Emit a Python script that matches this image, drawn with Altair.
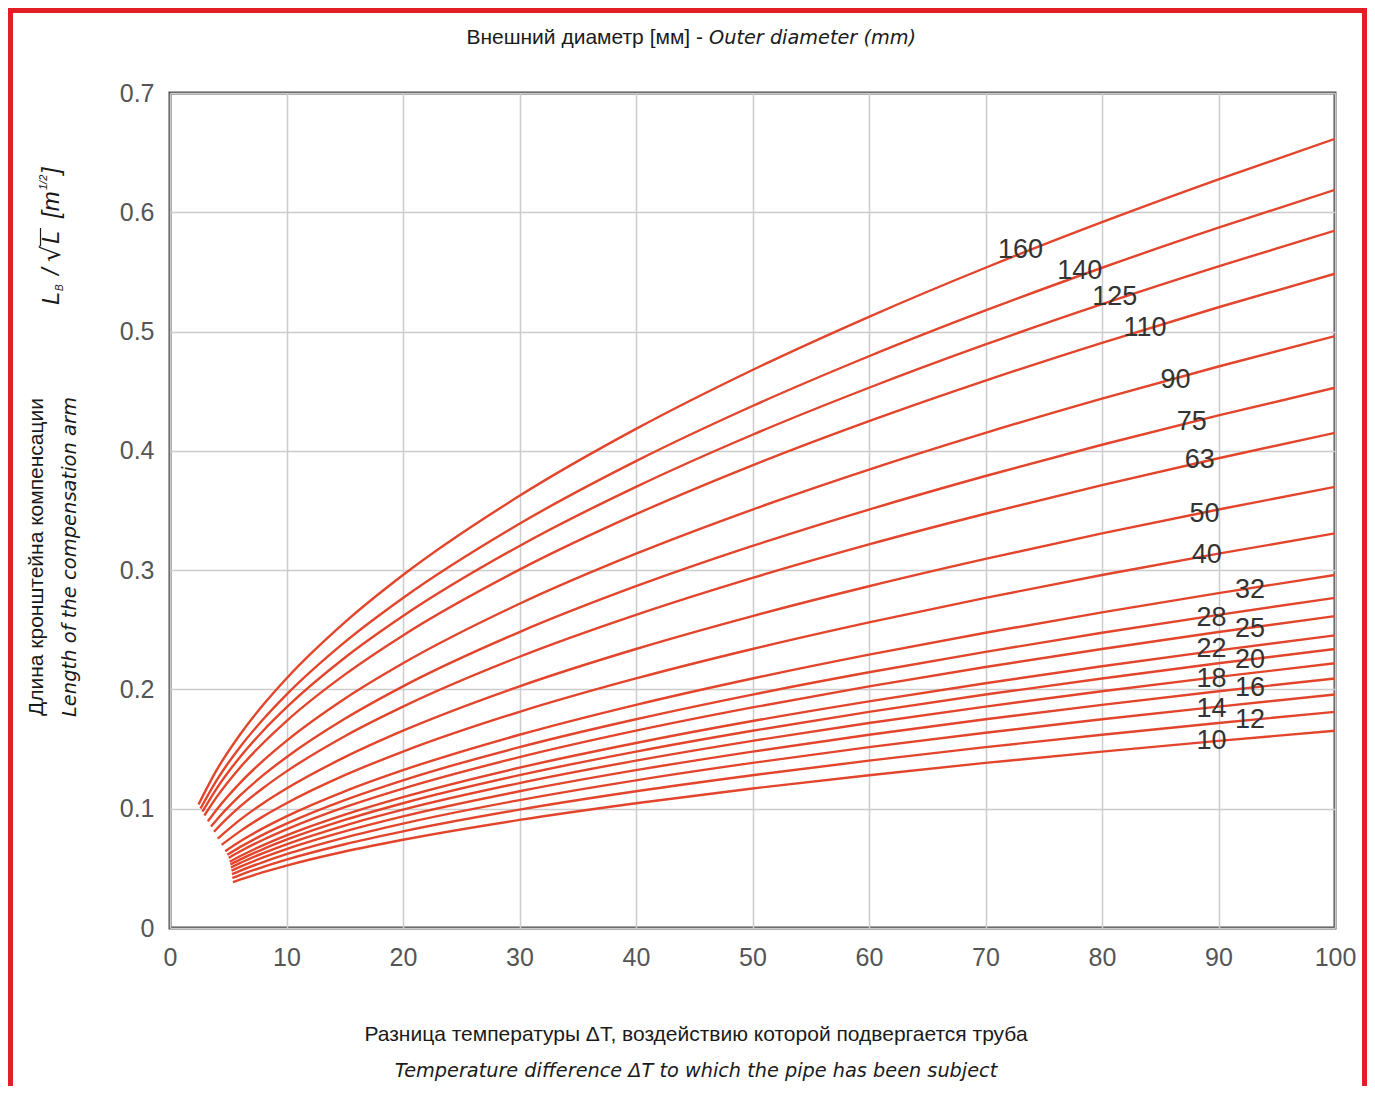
import altair as alt
import pandas as pd

# ---------------- data ----------------
DIAMETERS = [10, 12, 14, 16, 18, 20, 22, 25, 28, 32, 40, 50, 63, 75, 90, 110, 125, 140, 160]
START_X = [5.40, 5.36, 5.32, 5.28, 5.23, 5.18, 5.12, 5.05, 4.92, 4.74, 4.43, 4.10,
           3.78, 3.52, 3.25, 2.95, 2.78, 2.62, 2.45]
START_Y = [0.0384, 0.0419, 0.0451, 0.0481, 0.0507, 0.0532, 0.0555, 0.0588, 0.0614, 0.0644,
           0.0697, 0.0749, 0.0807, 0.0850, 0.0895, 0.0943, 0.0975, 0.1002, 0.1035]
GRID_X = [4, 6, 8, 10, 15, 20, 30, 40, 50, 60, 70, 80, 90, 100]

Y_10 = [None, 0.0405, 0.0468, 0.0523, 0.0641, 0.0740, 0.0906, 0.1046, 0.1170, 0.1281, 0.1384, 0.1479, 0.1569, 0.1654]
Y_12 = [None, 0.0444, 0.0512, 0.0573, 0.0702, 0.0810, 0.0992, 0.1146, 0.1281, 0.1403, 0.1516, 0.1620, 0.1719, 0.1812]
Y_14 = [None, 0.0479, 0.0553, 0.0619, 0.0758, 0.0875, 0.1072, 0.1238, 0.1384, 0.1516, 0.1637, 0.1750, 0.1856, 0.1957]
Y_16 = [None, 0.0512, 0.0592, 0.0662, 0.0810, 0.0936, 0.1146, 0.1323, 0.1479, 0.1620, 0.1750, 0.1871, 0.1985, 0.2092]
Y_18 = [None, 0.0544, 0.0628, 0.0702, 0.0859, 0.0992, 0.1215, 0.1403, 0.1569, 0.1719, 0.1856, 0.1985, 0.2105, 0.2219]
Y_20 = [None, 0.0573, 0.0662, 0.0740, 0.0906, 0.1046, 0.1281, 0.1479, 0.1654, 0.1812, 0.1957, 0.2092, 0.2219, 0.2339]
Y_22 = [None, 0.0601, 0.0694, 0.0776, 0.0950, 0.1097, 0.1344, 0.1551, 0.1735, 0.1900, 0.2052, 0.2194, 0.2327, 0.2453]
Y_25 = [None, 0.0641, 0.0740, 0.0827, 0.1013, 0.1169, 0.1432, 0.1654, 0.1849, 0.2026, 0.2188, 0.2339, 0.2481, 0.2615]
Y_28 = [None, 0.0678, 0.0783, 0.0875, 0.1072, 0.1238, 0.1516, 0.1750, 0.1957, 0.2144, 0.2315, 0.2475, 0.2625, 0.2768]
Y_32 = [None, 0.0725, 0.0837, 0.0936, 0.1146, 0.1323, 0.1620, 0.1871, 0.2092, 0.2292, 0.2475, 0.2646, 0.2807, 0.2959]
Y_40 = [None, 0.0810, 0.0936, 0.1046, 0.1281, 0.1479, 0.1812, 0.2092, 0.2339, 0.2562, 0.2768, 0.2959, 0.3138, 0.3308]
Y_50 = [None, 0.0906, 0.1046, 0.1169, 0.1432, 0.1654, 0.2026, 0.2339, 0.2615, 0.2865, 0.3094, 0.3308, 0.3508, 0.3698]
Y_63 = [0.0830, 0.1017, 0.1174, 0.1313, 0.1608, 0.1856, 0.2274, 0.2625, 0.2935, 0.3216, 0.3473, 0.3713, 0.3938, 0.4151]
Y_75 = [0.0906, 0.1109, 0.1281, 0.1432, 0.1754, 0.2026, 0.2481, 0.2865, 0.3203, 0.3508, 0.3789, 0.4051, 0.4297, 0.4529]
Y_90 = [0.0992, 0.1215, 0.1403, 0.1569, 0.1922, 0.2219, 0.2718, 0.3138, 0.3508, 0.3843, 0.4151, 0.4438, 0.4707, 0.4962]
Y_110 = [0.1097, 0.1344, 0.1551, 0.1735, 0.2124, 0.2453, 0.3004, 0.3469, 0.3879, 0.4249, 0.4589, 0.4906, 0.5204, 0.5485]
Y_125 = [0.1169, 0.1432, 0.1654, 0.1849, 0.2265, 0.2615, 0.3203, 0.3698, 0.4135, 0.4529, 0.4892, 0.5230, 0.5547, 0.5847]
Y_140 = [0.1238, 0.1516, 0.1750, 0.1957, 0.2397, 0.2767, 0.3389, 0.3914, 0.4376, 0.4793, 0.5177, 0.5535, 0.5871, 0.6188]
Y_160 = [0.1323, 0.1620, 0.1871, 0.2092, 0.2562, 0.2959, 0.3623, 0.4184, 0.4678, 0.5124, 0.5535, 0.5917, 0.6276, 0.6616]

SERIES = [Y_10, Y_12, Y_14, Y_16, Y_18, Y_20, Y_22, Y_25, Y_28, Y_32, Y_40, Y_50,
          Y_63, Y_75, Y_90, Y_110, Y_125, Y_140, Y_160]

LABEL_X = [89.4, 92.7, 89.4, 92.7, 89.4, 92.7, 89.4, 92.7, 89.4, 92.7, 89.0, 88.8,
           88.4, 87.7, 86.3, 83.7, 81.1, 78.1, 73.0]
LABEL_Y = [0.157, 0.174, 0.184, 0.201, 0.209, 0.225, 0.234, 0.251, 0.260, 0.283, 0.313, 0.347,
           0.392, 0.424, 0.459, 0.503, 0.529, 0.551, 0.568]

X_TICKS = [0, 10, 20, 30, 40, 50, 60, 70, 80, 90, 100]
Y_TICKS = [0, 0.1, 0.2, 0.3, 0.4, 0.5, 0.6, 0.7]

TITLE_RU = "Внешний диаметр [мм] -"
TITLE_EN = "Outer diameter (mm)"
XT_RU = "Разница температуры ΔT, воздействию которой подвергается труба"
XT_EN = "Temperature difference ΔT to which the pipe has been subject"
YT_RU = "Длина кронштейна компенсации"
YT_EN = "Length of the compensation arm"

# ---------------- build tables ----------------
rows = []
for d, x0, y0, ys in zip(DIAMETERS, START_X, START_Y, SERIES):
    rows.append({"d": d, "x": x0, "y": y0})
    for gx, gy in zip(GRID_X, ys):
        if gy is not None:
            rows.append({"d": d, "x": gx, "y": gy})
curves = pd.DataFrame(rows)
labels = pd.DataFrame({"t": [str(d) for d in DIAMETERS], "x": LABEL_X, "y": LABEL_Y})

W, H = 1165, 835
OX, OY = 170, 93  # plot origin on page

RED = "#e2452b"
FONT = "Liberation Sans"
IFONT = "DejaVu Sans"

xscale = alt.Scale(domain=[0, 100], nice=False)
yscale = alt.Scale(domain=[0, 0.7], nice=False)

lines = alt.Chart(curves).mark_line(
    color=RED, strokeWidth=2.4, interpolate="monotone", clip=True
).encode(
    x=alt.X("x:Q", scale=xscale,
            axis=alt.Axis(values=X_TICKS, format="d", title="", grid=True, ticks=False,
                          domain=False, labelPadding=17, labelFontSize=25, labelFlush=False,
                          labelColor="#555555", labelFont=FONT,
                          gridColor="#cccccc", gridWidth=1.5)),
    y=alt.Y("y:Q", scale=yscale,
            axis=alt.Axis(values=Y_TICKS, title="", grid=True, ticks=False, domain=False,
                          labelExpr="datum.value == 0 ? '0' : format(datum.value, '.1f')",
                          labelPadding=16, labelFontSize=25, labelColor="#555555",
                          labelFlush=False,
                          labelFont=FONT, gridColor="#cccccc", gridWidth=1.5)),
    detail="d:N",
    order="x:Q",
)

lbl = alt.Chart(labels).mark_text(
    font=FONT, fontSize=27, color="#333333", align="center", baseline="middle"
).encode(x=alt.X("x:Q", scale=xscale), y=alt.Y("y:Q", scale=yscale), text="t:N")


def txt(s, px, py, size=20, italic=False, align="center", angle=0, color="#1a1a1a", font=None):
    kw = dict(font=font or (IFONT if italic else FONT), fontSize=size, color=color,
              align=align, baseline="middle")
    if italic:
        kw["fontStyle"] = "italic"
    if angle:
        kw["angle"] = angle
    return alt.Chart(pd.DataFrame({"t": [s]})).mark_text(**kw).encode(
        text="t:N", x=alt.value(px - OX), y=alt.value(py - OY))


def rule(x1, y1, x2, y2, color, width):
    return alt.Chart(pd.DataFrame({"a": [0]})).mark_rule(color=color, strokeWidth=width).encode(
        x=alt.value(x1 - OX), x2=alt.value(x2 - OX), y=alt.value(y1 - OY), y2=alt.value(y2 - OY))


annots = [
    txt(TITLE_RU, 703, 38, 21, align="right"),
    txt(TITLE_EN, 709, 38, 19.3, italic=True, align="left"),
    txt(XT_RU, 696, 1035, 21),
    txt(XT_EN, 696, 1071, 19.3, italic=True),
    txt(YT_RU, 37, 557, 21, angle=270),
    txt(YT_EN, 70, 557, 19.5, italic=True, angle=270),
    # L_B / sqrt(L) [m^1/2]
    txt("L", 52, 305, 24, italic=True, align="left", angle=270, font=FONT),
    txt("B", 60, 291, 10, italic=True, align="left", angle=270, font=FONT),
    txt("/", 52, 275, 24, italic=True, align="left", angle=270, font=FONT),
    txt("√", 52, 262, 26, align="left", angle=270, font="DejaVu Sans"),
    txt("L", 52, 244, 24, italic=True, align="left", angle=270, font=FONT),
    txt("[m", 52, 218, 24, italic=True, align="left", angle=270, font=FONT),
    txt("1/2", 44, 190, 11, italic=True, align="left", angle=270, font=FONT),
    txt("]", 52, 174, 24, italic=True, align="left", angle=270, font=FONT),
    rule(40.5, 246, 40.5, 228, "#1a1a1a", 1.2),
    # red frame of the figure
    rule(10.5, 8, 10.5, 1086, "#e31e24", 5),
    rule(8, 10.5, 1367, 10.5, "#e31e24", 5),
    rule(1364.5, 8, 1364.5, 1086, "#e31e24", 5),
]

chart = alt.layer(lines, lbl, *annots).properties(
    width=W, height=H,
    autosize=alt.AutoSizeParams(type="none"),
    padding={"left": 162, "top": 85, "right": 32, "bottom": 158},
    background="white",
).configure_view(stroke="#4d4d4d", strokeWidth=3)

chart.save("out.html", embed_options={"renderer": "svg", "actions": False})
